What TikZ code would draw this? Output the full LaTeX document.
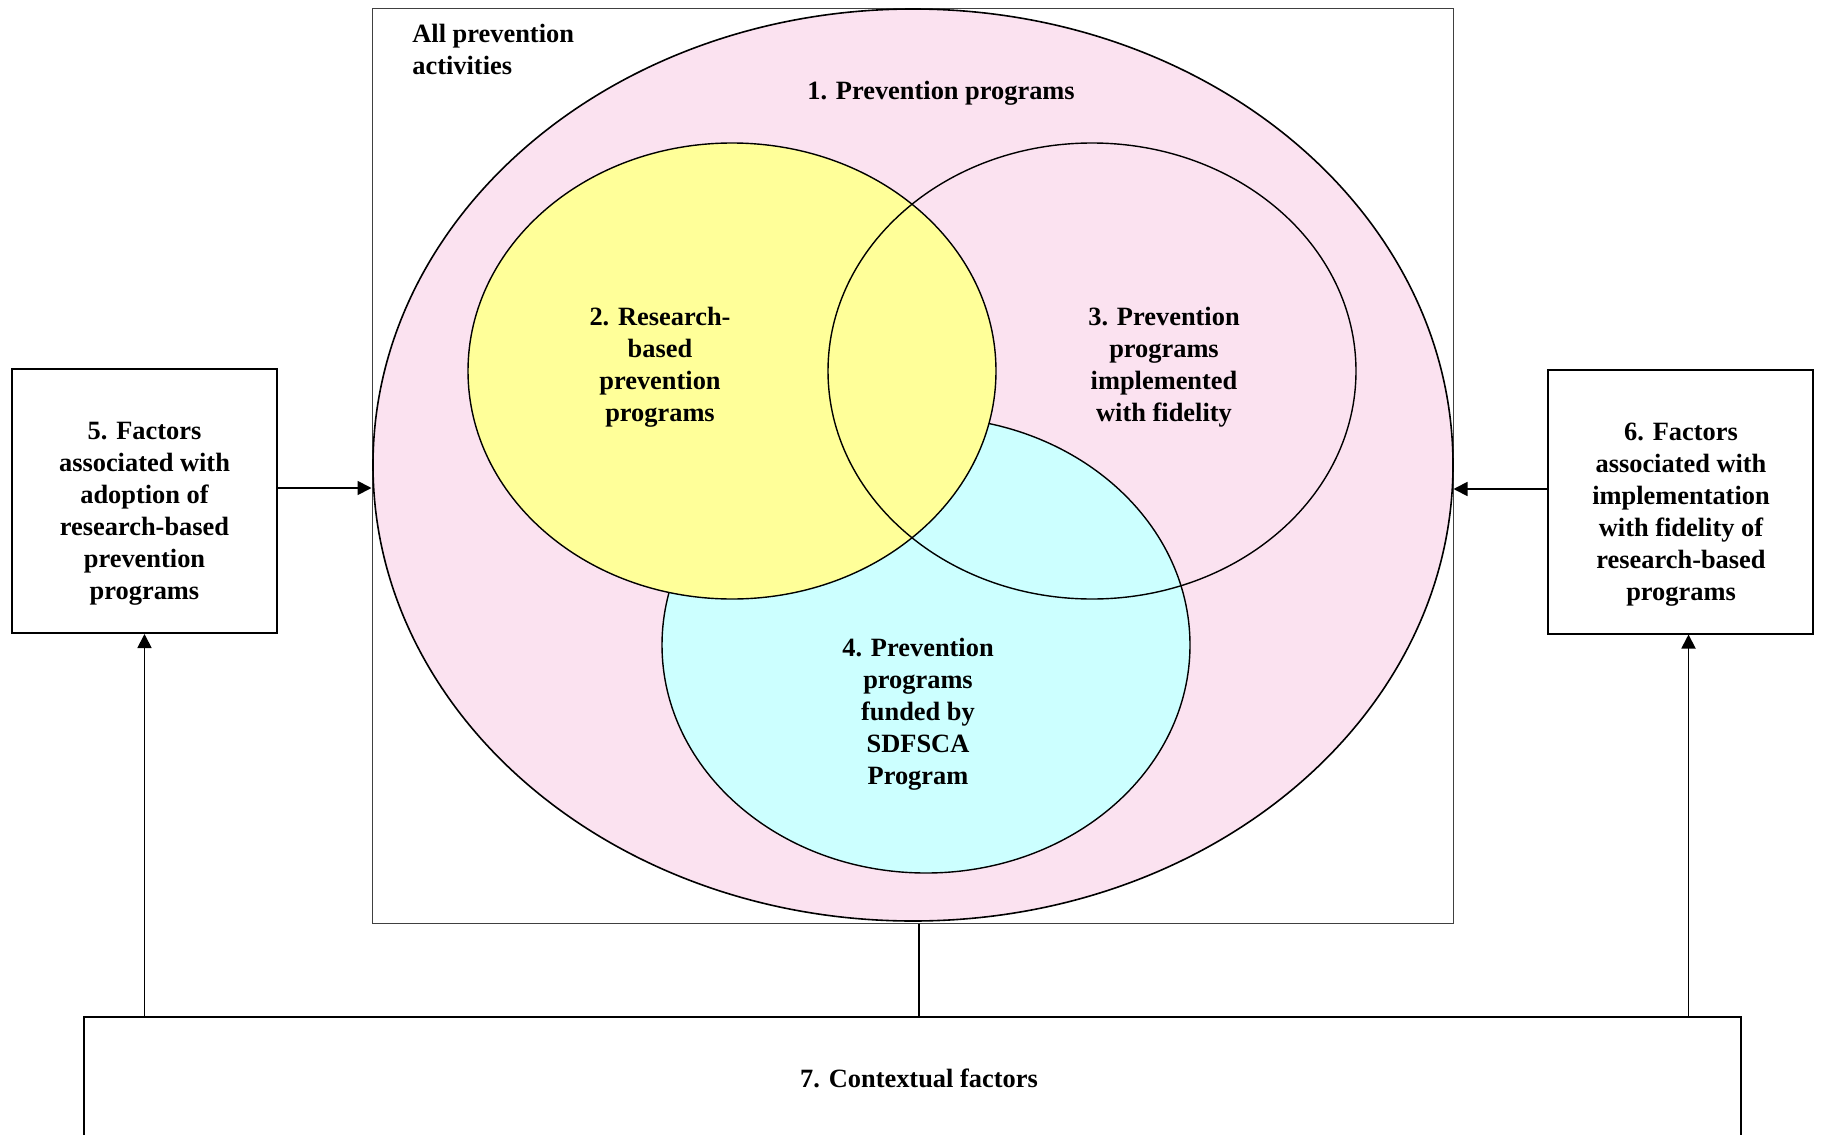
\documentclass[tikz,border=0pt]{standalone}
\usepackage{fontspec}
\setmainfont{Liberation Serif}
\usetikzlibrary{shapes.geometric,arrows.meta}
\definecolor{pinkfill}{RGB}{251,226,240}
\definecolor{yellowfill}{RGB}{255,255,153}
\definecolor{cyanfill}{RGB}{204,255,255}
\tikzset{
  lbl/.style={font=\fontsize{13.2pt}{16pt}\selectfont\bfseries, align=center, inner sep=0pt},
  factorbox/.style={draw, line width=1pt, minimum width=132.5pt, minimum height=132pt, inner sep=0pt},
  venn/.style={ellipse, draw, line width=0.7pt, minimum width=264pt, minimum height=228pt, inner sep=0pt},
  arr/.style={line width=0.9pt, -{Triangle[length=7pt,width=7pt]}},
  conn/.style={line width=0.9pt}
}
\begin{document}
\begin{tikzpicture}[x=0.5pt,y=-0.5pt]
\clip (0,0) rectangle (1821,1135);
\useasboundingbox (0,0) rectangle (1821,1135);
% outer rectangle
\node[draw=black!75, line width=0.5pt, minimum width=540.5pt, minimum height=457.5pt, inner sep=0pt] (all) at (912.5,465.5) {};
\node[lbl, align=left, anchor=north west] (alltxt) at (412,24) {All prevention\\activities};
% big ellipse
\node[ellipse, draw, fill=pinkfill, line width=0.8pt, minimum width=540pt, minimum height=456pt, inner sep=0pt] (e1) at (913,465) {};
\node[lbl] (t1) at (941,93.5) {1. Prevention programs};
% venn ellipses
\node[venn, fill=cyanfill] (e4) at (926,645) {};
\node[venn, fill=yellowfill] (e2) at (732,371) {};
\node[venn] (e3) at (1092,371) {};
\node[lbl] (t2) at (660,367) {2. Research-\\based\\prevention\\programs};
\node[lbl] (t3) at (1164,367) {3. Prevention\\programs\\implemented\\with fidelity};
\node[lbl] (t4) at (918,714) {4. Prevention\\programs\\funded by\\SDFSCA\\Program};
% factor boxes
\node[factorbox] (b5) at (144.5,501) {};
\node[lbl] (t5) at (144.5,514) {5. Factors\\associated with\\adoption of\\research-based\\prevention\\programs};
\node[factorbox] (b6) at (1680.5,501.5) {};
\node[lbl] (t6) at (1681,515) {6. Factors\\associated with\\implementation\\with fidelity of\\research-based\\programs};
% contextual box
\node[draw, line width=1.1pt, minimum width=828.5pt, minimum height=70pt, inner sep=0pt] (b7) at (912.5,1087) {};
\node[lbl] (t7) at (919,1078) {7. Contextual factors};
% connectors
\draw[arr] ([yshift=6.5pt]b5.east) -- ([yshift=6.5pt]b5.east -| all.west);
\draw[arr] ([yshift=6.25pt]b6.west) -- ([yshift=6.25pt]b6.west -| all.east);
\draw[arr] (b7.north -| b5.south) -- (b5.south);
\draw[arr] ([xshift=4pt]b6.south |- b7.north) -- ([xshift=4pt]b6.south);
\draw[conn] ([xshift=3.25pt]all.south) -- ([xshift=3.25pt]all.south |- b7.north);
\end{tikzpicture}
\end{document}
